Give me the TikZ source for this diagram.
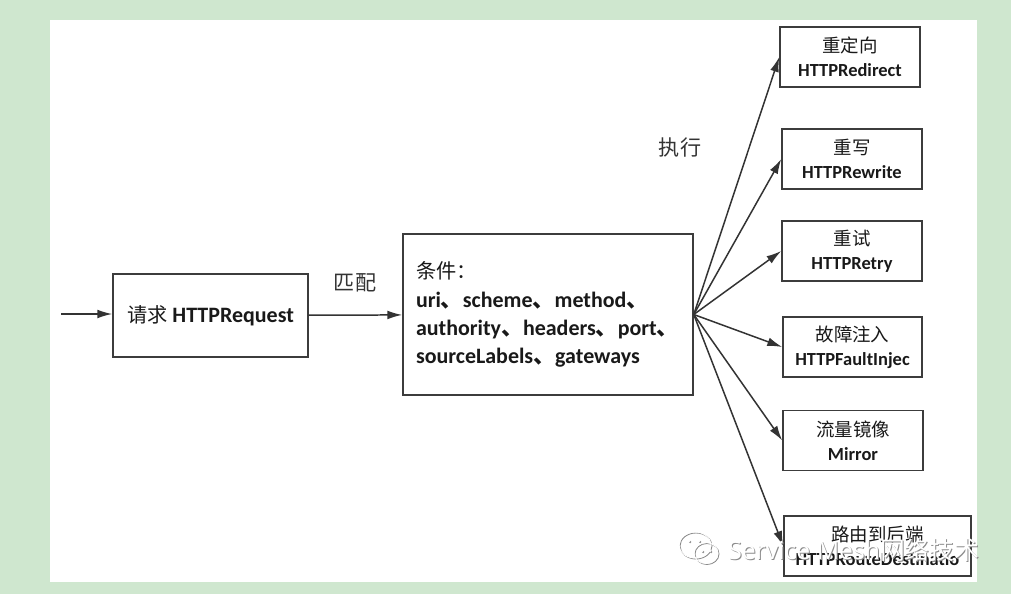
\documentclass[tikz,border=0pt]{standalone}
\usepackage{fontspec}
\setmainfont{Carlito}
\setsansfont{Open Sans}
\newfontfamily\cjk{Noto Sans CJK SC}
\usetikzlibrary{arrows.meta}
\definecolor{bgreen}{HTML}{CFE7CF}
\definecolor{linegray}{HTML}{3C3C3C}
\tikzset{
	>={Latex[length=8.5pt,width=5pt]},
	flowbox/.style={draw=linegray,line width=0.85pt,fill=white,inner sep=0pt,align=center,text=black!90},
	actbox/.style={flowbox,minimum height=1.2cm,font=\fontsize{10.5}{13.4}\selectfont},
	flowline/.style={draw=black!80,line width=0.85pt,->},
	flowtag/.style={inner sep=0pt,text=black!80,font=\cjk\fontsize{12}{14}\selectfont},
	marktext/.style={inner sep=0pt,anchor=west,font=\sffamily\fontsize{14.1}{16}\selectfont},
}
\newcommand{\hb}[1]{\textbf{#1}}
\begin{document}
\begin{tikzpicture}
	\useasboundingbox (0,0) rectangle (20.22,11.88);
	\fill[bgreen] (0,0) rectangle (20.22,11.88);
	\fill[white] (1,0.24) rectangle (19.54,11.48);
	\coordinate (in) at (1.22,5.6);
	\node[flowbox,minimum width=3.9cm,minimum height=1.66cm,font=\fontsize{12.5}{14}\selectfont] (req) at (4.21,5.57) {{\cjk\fontsize{11.5}{14}\selectfont 请求} \hb{HTTPRequest}};
	\node[flowbox,minimum width=5.8cm,minimum height=3.22cm,text width=5.28cm,align=left,font=\fontsize{12.5}{16}\selectfont] (cond) at (10.96,5.59) {{\cjk\fontsize{11.5}{16}\selectfont 条件：}\\\hb{uri{\cjk 、}scheme{\cjk 、}method{\cjk 、}}\\\hb{authority{\cjk 、}headers{\cjk 、}port{\cjk 、}}\\\hb{sourceLabels{\cjk 、}gateways}};
	\node[actbox,minimum width=2.8cm] (redir) at (17,10.74) {{\cjk 重定向}\\\hb{HTTPRedirect}};
	\node[actbox,minimum width=2.8cm] (rewr) at (17.04,8.7) {{\cjk 重写}\\\hb{HTTPRewrite}};
	\node[actbox,minimum width=2.8cm] (retry) at (17.04,6.86) {{\cjk 重试}\\\hb{HTTPRetry}};
	\node[actbox,minimum width=2.78cm] (fault) at (17.05,4.94) {{\cjk 故障注入}\\\hb{HTTPFaultInjec}};
	\node[actbox,minimum width=2.8cm] (mirror) at (17.06,3.07) {{\cjk 流量镜像}\\\hb{Mirror}};
	\node[actbox,minimum width=3.74cm] (route) at (17.55,0.96) {{\cjk 路由到后端}\\\hb{HTTPRouteDestinatio}};
	\draw[flowline] (in) -- (req.west |- in);
	\draw[flowline] (req) -- (cond);
	\draw[flowline] (cond.east) -- (redir.west);
	\draw[flowline] (cond.east) -- (rewr.west);
	\draw[flowline] (cond.east) -- (retry.west);
	\draw[flowline] (cond.east) -- (fault.west);
	\draw[flowline] (cond.east) -- (mirror.west);
	\draw[flowline] (cond.east) -- (route.west);
	\node[flowtag] (match) at (7.1,6.23) {匹配};
	\node[flowtag] (exec) at (13.6,8.92) {执行};
	% watermark
	\foreach \dx/\dy/\col in {0.02/-0.02/black!45,0/0/white}{
		\begin{scope}[shift={(\dx,\dy)}]
			\draw[\col,line width=0.5pt] (13.9,0.98) ellipse (0.32 and 0.26);
			\draw[\col,line width=0.5pt] (14.12,0.82) ellipse (0.24 and 0.21);
			\foreach \ex/\ey in {13.78/1.06,13.98/1.06,14.04/0.86,14.2/0.86}
				\fill[\col] (\ex,\ey) circle (0.025);
			\node[marktext,text=\col] at (14.56,0.88) {Service Mesh{\cjk 网络技术}};
		\end{scope}
	}
\end{tikzpicture}
\end{document}
